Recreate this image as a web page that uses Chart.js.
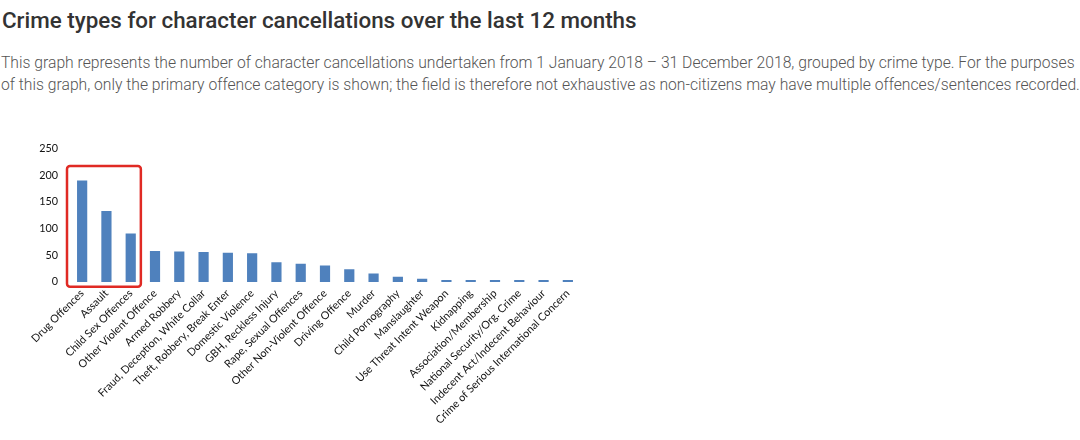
<!DOCTYPE html>
<html>
<head>
<meta charset="utf-8">
<script src="https://cdn.jsdelivr.net/npm/chart.js@4"></script>
<style>
  html, body { margin: 0; padding: 0; background: #fff; }
  body { width: 1080px; height: 440px; position: relative; overflow: hidden; }
  h1 {
    position: absolute; left: 2px; top: 7px; margin: 0; white-space: nowrap;
    font: 500 22.4px Roboto, sans-serif; color: #333;
  }
  p {
    position: absolute; left: 1px; top: 52px; margin: 0; width: 1100px;
    font: 300 15.7px/22px Roboto, sans-serif; color: #555;
  }
  #wrap { position: absolute; left: 0; top: 130px; width: 600px; height: 310px; }
</style>
</head>
<body>
<h1>Crime types for character cancellations over the last 12 months</h1>
<p>This graph represents the number of character cancellations undertaken from 1 January 2018 – 31 December 2018, grouped by crime type. For the purposes<br>of this graph, only the primary offence category is shown; the field is therefore not exhaustive as non-citizens may have multiple offences/sentences recorded.</p>
<div id="wrap"><canvas id="crimeChart"></canvas></div>
<script>
const crimeTypes = [
  'Drug Offences',
  'Assault',
  'Child Sex Offences',
  'Other Violent Offence',
  'Armed Robbery',
  'Fraud, Deception, White Collar',
  'Theft, Robbery, Break Enter',
  'Domestic Violence',
  'GBH, Reckless Injury',
  'Rape, Sexual Offences',
  'Other Non-Violent Offence',
  'Driving Offence',
  'Murder',
  'Child Pornography',
  'Manslaughter',
  'Use Threat Intent Weapon',
  'Kidnapping',
  'Association/Membership',
  'National Security/Org. Crime',
  'Indecent Act/Indecent Behaviour',
  'Crime of Serious International Concern',
];
const cancellations = [190, 133, 91, 58, 57, 56, 55, 54, 37, 34, 31, 24, 16, 10, 6, 3, 3, 2, 2, 2, 2];
const yTicks = [0, 50, 100, 150, 200, 250];

// 빨간 박스: 상위 3개 범주 강조
const highlightBox = {
  id: 'highlightBox',
  afterDatasetsDraw(chart) {
    const { ctx, scales: { x, y } } = chart;
    const half = (x.getPixelForValue(1) - x.getPixelForValue(0)) / 2;
    const left = x.getPixelForValue(0) - half - 3;
    const right = x.getPixelForValue(2) + half - 2;
    const top = y.getPixelForValue(217);
    const bottom = y.getPixelForValue(-9);
    ctx.save();
    ctx.strokeStyle = '#e02a24';
    ctx.lineWidth = 2.5;
    ctx.beginPath();
    ctx.roundRect(left, top, right - left, bottom - top, 3);
    ctx.stroke();
    ctx.restore();
  },
};

new Chart(document.getElementById('crimeChart'), {
  type: 'bar',
  data: {
    labels: crimeTypes,
    datasets: [{
      data: cancellations,
      backgroundColor: '#4f81bd',
      categoryPercentage: 1,
      barPercentage: 0.42,
      minBarLength: 2,
    }],
  },
  options: {
    responsive: true,
    maintainAspectRatio: false,
    animation: false,
    layout: { padding: { top: 17, right: 20, left: 0, bottom: 0 } },
    plugins: { legend: { display: false }, tooltip: { enabled: false } },
    scales: {
      x: {
        grid: { display: false, drawTicks: false },
        border: { display: false },
        ticks: {
          autoSkip: false,
          maxRotation: 45,
          minRotation: 45,
          padding: 5,
          color: '#111',
          font: { family: 'Lato', size: 10.8 },
        },
        afterFit(scale) { scale.height = 158; },
      },
      y: {
        min: 0,
        max: 250,
        grid: { display: false, drawTicks: false },
        border: { display: false },
        afterBuildTicks(scale) { scale.ticks = yTicks.map(v => ({ value: v })); },
        ticks: {
          padding: 12,
          color: '#111',
          font: { family: 'Lato', size: 10.8 },
        },
        afterFit(scale) { scale.width = 70; },
      },
    },
  },
  plugins: [highlightBox],
});
</script>
</body>
</html>
